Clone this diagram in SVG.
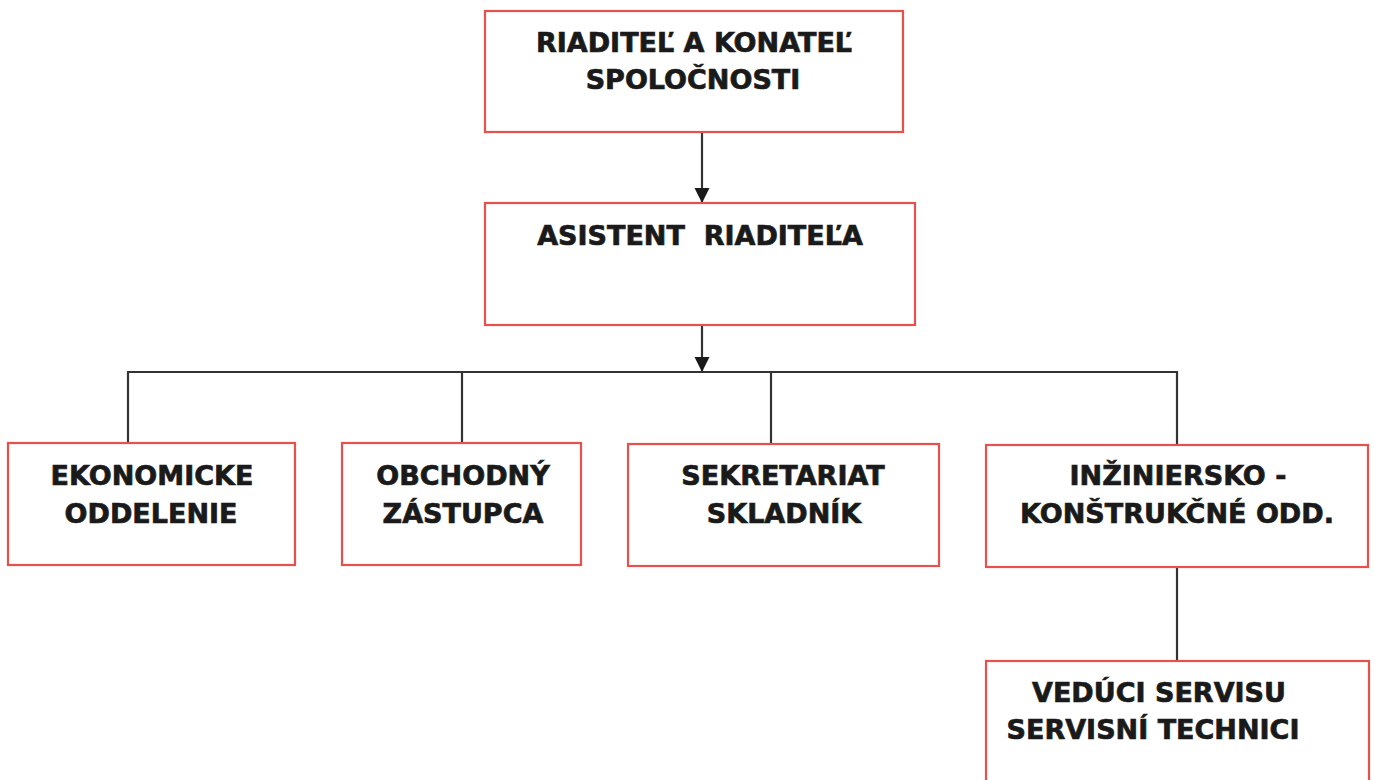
<svg xmlns="http://www.w3.org/2000/svg" width="1375" height="780" viewBox="0 0 1375 780">
<style>
.box{fill:#fff;stroke:#e8504c;stroke-width:2.2}
.t{font-family:"DejaVu Sans","Liberation Sans",sans-serif;font-weight:bold;font-size:27px;fill:#1a1a1a;stroke:#1a1a1a;stroke-width:0.7;text-anchor:middle}
.c{stroke:#333;stroke-width:2.2;fill:none}
</style>
<defs>
<marker id="arr" viewBox="0 0 10 10" refX="10" refY="5" markerWidth="7" markerHeight="7" markerUnits="strokeWidth" orient="auto">
<path d="M0,0 L10,5 L0,10 z" fill="#1a1a1a"/>
</marker>
</defs>
<rect width="1375" height="780" fill="#fff"/>
<g id="connectors">
<line class="c" x1="702" y1="133" x2="702" y2="203" marker-end="url(#arr)"/>
<line class="c" x1="702" y1="325" x2="702" y2="372" marker-end="url(#arr)"/>
<polyline class="c" points="128,443 128,372 1177,372 1177,445"/>
<line class="c" x1="462" y1="372" x2="462" y2="443"/>
<line class="c" x1="771" y1="372" x2="771" y2="444"/>
<line class="c" x1="1177" y1="567" x2="1177" y2="661"/>
</g>
<g id="n1"><rect class="box" x="485" y="11" width="418" height="121"/>
<text class="t" x="694" y="52">RIADITEĽ A KONATEĽ</text>
<text class="t" x="693" y="89">SPOLOČNOSTI</text></g>
<g id="n2"><rect class="box" x="485" y="203" width="430" height="122"/>
<text class="t" x="700" y="245" xml:space="preserve">ASISTENT  RIADITEĽA</text></g>
<g id="n3"><rect class="box" x="8" y="443" width="287" height="122"/>
<text class="t" x="152" y="485">EKONOMICKE</text>
<text class="t" x="151" y="523">ODDELENIE</text></g>
<g id="n4"><rect class="box" x="342" y="443" width="239" height="122"/>
<text class="t" x="463" y="485">OBCHODNÝ</text>
<text class="t" x="463" y="523">ZÁSTUPCA</text></g>
<g id="n5"><rect class="box" x="628" y="444" width="311" height="122"/>
<text class="t" x="783" y="485">SEKRETARIAT</text>
<text class="t" x="784" y="523">SKLADNÍK</text></g>
<g id="n6"><rect class="box" x="986" y="445" width="382" height="122"/>
<text class="t" x="1178" y="485">INŽINIERSKO -</text>
<text class="t" x="1177" y="523">KONŠTRUKČNÉ ODD.</text></g>
<g id="n7"><rect class="box" x="986" y="661" width="383" height="140"/>
<text class="t" x="1159" y="702">VEDÚCI SERVISU</text>
<text class="t" x="1153" y="739">SERVISNÍ TECHNICI</text></g>
</svg>
